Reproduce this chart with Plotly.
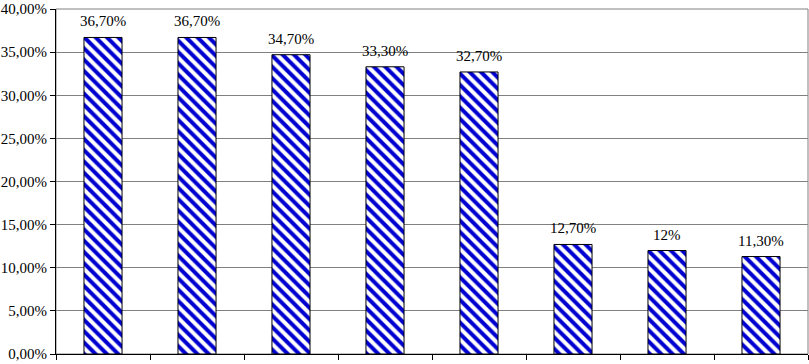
import plotly.graph_objects as go

categories = ["1", "2", "3", "4", "5", "6", "7", "8"]
values = [0.367, 0.367, 0.347, 0.333, 0.327, 0.127, 0.12, 0.113]
labels = ["36,70%", "36,70%", "34,70%", "33,30%", "32,70%", "12,70%", "12%", "11,30%"]
y_ticks = [0, 0.05, 0.10, 0.15, 0.20, 0.25, 0.30, 0.35, 0.40]

xpos = list(range(len(categories)))
font_family = "Liberation Serif, Times New Roman, serif"

fig = go.Figure()
fig.add_trace(go.Bar(
    x=xpos, y=values,
    width=0.405, cliponaxis=False,
    marker=dict(color="#ffffff", line=dict(color="#000000", width=1),
                pattern=dict(shape="\\", fgcolor="#0000d0", bgcolor="#ffffff",
                             fgopacity=1, size=8, solidity=0.5, fillmode="overlay")),
    hoverinfo="skip",
))

for xv, yv, lab in zip(xpos, values, labels):
    fig.add_annotation(x=xv, y=yv, text=lab, showarrow=False,
                       xanchor="center", yanchor="bottom", yshift=6,
                       font=dict(family=font_family, size=15, color="#000000"))

fig.update_layout(
    width=809, height=364,
    margin=dict(l=55, r=1, t=4, b=10),
    paper_bgcolor="#ffffff", plot_bgcolor="#ffffff",
    separators=",.",
    showlegend=False,
    font=dict(family=font_family, size=15, color="#000000"),
    shapes=[dict(type="rect", xref="paper", yref="paper", x0=0, y0=0, x1=1, y1=1,
                 line=dict(color="#808080", width=1), layer="below")],
)
fig.update_xaxes(
    range=[-0.5, len(categories) - 0.5],
    tickmode="array", tickvals=[i - 0.5 for i in range(len(categories) + 1)],
    ticktext=["" for _ in range(len(categories) + 1)],
    ticks="outside", ticklen=5, tickcolor="#000000",
    showline=True, linecolor="#000000", linewidth=1,
    showgrid=False, zeroline=False, fixedrange=True,
)
fig.update_yaxes(
    range=[0, 0.40],
    tickmode="array", tickvals=y_ticks, tickformat=".2%",
    ticks="outside", ticklen=5, tickcolor="#000000",
    ticklabeloverflow="allow",
    showline=True, linecolor="#000000", linewidth=1,
    showgrid=True, gridcolor="#808080", gridwidth=1,
    zeroline=False, fixedrange=True,
    tickfont=dict(family=font_family, size=15, color="#000000"),
)

fig.write_html("out.html", config={"displayModeBar": False},
               post_script="document.body.style.margin='0';document.body.style.overflow='hidden';")
